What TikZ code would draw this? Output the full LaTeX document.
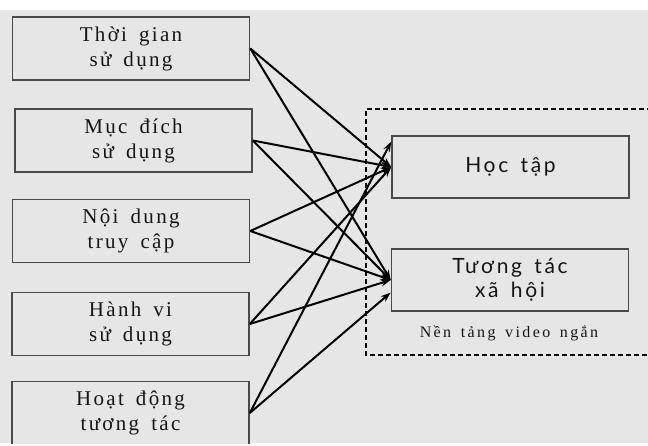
\documentclass[tikz,border=0pt]{standalone}
\usepackage{fontspec}
\usepackage{tikz}
\usetikzlibrary{arrows.meta}
\setmainfont{Liberation Serif}
\newfontfamily\boxserif[LetterSpace=11,WordSpace=1.6]{Liberation Serif}
\newfontfamily\tagserif[LetterSpace=15,WordSpace=1.5]{Liberation Serif}
\newfontfamily\boxsans[LetterSpace=13,WordSpace=1.5]{Lato}
\definecolor{paper}{HTML}{E6E6E6}
\definecolor{rim}{HTML}{4A4A4A}
\definecolor{ink}{HTML}{151515}

\tikzset{
	factor/.style={draw=rim, line width=1.6pt, fill=paper, minimum width=237pt, minimum height=63pt, align=center, inner sep=0pt, text=ink, font=\boxserif\fontsize{21}{25}\selectfont},
	outcome/.style={draw=rim, line width=1.6pt, fill=paper, minimum width=237pt, minimum height=62pt, align=center, inner sep=0pt, text=ink, font=\boxsans\fontsize{21}{24}\selectfont},
	arr/.style={line width=2pt, -{Stealth[length=10pt,width=7pt]}},
}

\begin{document}
\begin{tikzpicture}[x=1pt, y=-1pt]
\useasboundingbox (0,0) rectangle (648,446);
				\fill[white] (0,0) rectangle (648,446);
				\fill[paper] (0,10) rectangle (648,443);
				
				\begin{scope}
				\clip (0,10) rectangle (648,443);
				\draw[dashed, dash pattern=on 5pt off 3pt, line width=1.3pt] (660,109) -- (366,109) -- (366,355) -- (660,355);
				
				\node[factor] (thoigian) at (131,48.5) {Thời gian\\sử dụng};
				\node[factor] (mucdich) at (133.5,140.5) {Mục đích\\sử dụng};
				\node[factor] (noidung) at (131,231) {Nội dung\\truy cập};
				\node[factor] (hanhvi) at (130.5,324) {Hành vi\\sử dụng};
				\node[factor] (hoatdong) at (130.5,413) {Hoạt động\\tương tác};
				
				\node[outcome] (hoctap) at (510.5,167) {Học tập};
				\node[outcome] (tuongtac) at (510,280) {Tương tác\\xã hội};
				\node[text=ink, font=\tagserif\fontsize{16}{18}\selectfont] (nentang) at (509,333) {Nền tảng video ngắn};
				
				\foreach \src in {thoigian,mucdich,noidung,hanhvi} {
\draw[arr] (\src.east) -- (hoctap.west);
\draw[arr] (\src.east) -- (tuongtac.west);
				}
				\draw[arr] (hoatdong.east) -- (hoctap.168);
				\draw[arr] (hoatdong.east) -- (tuongtac.186);
				\end{scope}
		\end{tikzpicture}
\end{document}
